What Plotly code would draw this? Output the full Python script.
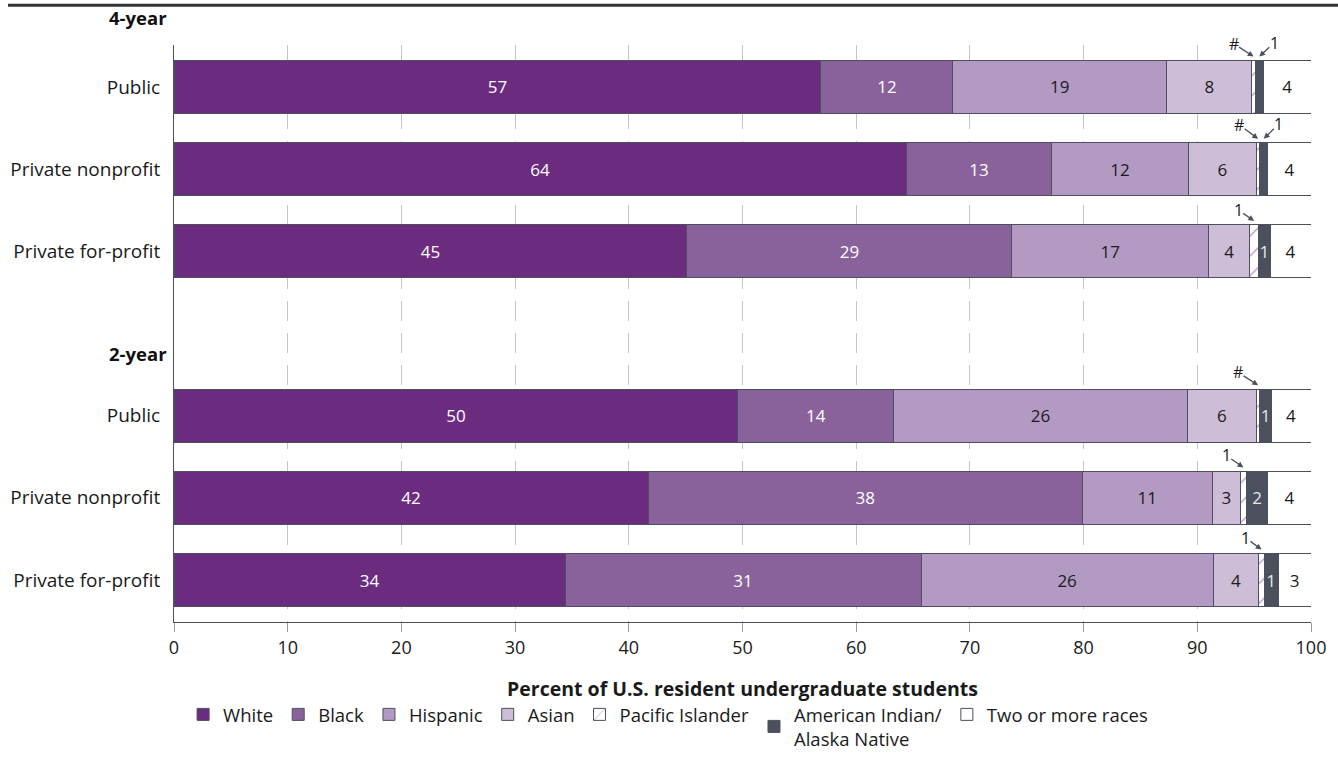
import plotly.graph_objects as go

# ---------------- data ----------------
categories = ["Public", "Private nonprofit", "Private for-profit",
              "Public", "Private nonprofit", "Private for-profit"]
groups = ["4-year", "2-year"]
row_pos = [0, 1, 2, 4, 5, 6]

white = [56.9, 64.4, 45.1, 49.6, 41.7, 34.4]
black = [11.6, 12.8, 28.6, 13.7, 38.2, 31.3]
hispanic = [18.8, 12.0, 17.3, 25.8, 11.4, 25.7]
asian = [7.5, 6.0, 3.6, 6.1, 2.5, 4.0]
pacific = [0.3, 0.3, 0.8, 0.3, 0.5, 0.5]
aian = [0.7, 0.7, 1.0, 1.0, 1.9, 1.2]
two_more = [4.2, 3.8, 3.6, 3.5, 3.8, 2.9]

white_lbl = ["57", "64", "45", "50", "42", "34"]
black_lbl = ["12", "13", "29", "14", "38", "31"]
hispanic_lbl = ["19", "12", "17", "26", "11", "26"]
asian_lbl = ["8", "6", "4", "6", "3", "4"]
pacific_lbl = ["#", "#", "1", "#", "1", "1"]          # shown outside with arrows
aian_in_lbl = ["", "", "1", "1", "2", "1"]            # shown inside bar
aian_out_lbl = ["1", "1", "", "", "", ""]             # shown outside with arrows
two_lbl = ["4", "4", "4", "4", "4", "3"]

x_ticks = [0, 10, 20, 30, 40, 50, 60, 70, 80, 90, 100]

# ---------------- style ----------------
FONT = "Open Sans"
EDGE = "#4a505d"
series = [
    ("White", white, white_lbl, "#6b2c80", "white"),
    ("Black", black, black_lbl, "#8a629b", "white"),
    ("Hispanic", hispanic, hispanic_lbl, "#b39ac3", "#1a1a1a"),
    ("Asian", asian, asian_lbl, "#cebdd7", "#1a1a1a"),
    ("Pacific Islander", pacific, [""] * 6, "white", "#1a1a1a"),
    ("American Indian/<br>Alaska Native", aian, aian_in_lbl, "#4a505d", "#e6e6e6"),
    ("Two or more races", two_more, two_lbl, "white", "#1a1a1a"),
]

fig = go.Figure()
for name, vals, lbls, color, tcolor in series:
    marker = dict(color=color, line=dict(color=EDGE, width=1))
    if name == "Pacific Islander":
        marker["pattern"] = dict(shape="/", fgcolor="#7b3c96", bgcolor="white",
                                 size=14, solidity=0.1)
    fig.add_trace(go.Bar(
        y=row_pos, x=vals, name=name, orientation="h", width=0.645,
        marker=marker, text=lbls, textposition="inside",
        insidetextanchor="middle", textangle=0,
        textfont=dict(family=FONT, size=17, color=tcolor),
        hoverinfo="skip",
    ))

# ---------------- outside labels with arrows ----------------
pi_offsets = [(-20, -13), (-19, -14), (-16, -11), (-20, -13), (-17, -12), (-16, -12)]
aian_offsets = [(15, -14), (15, -15), (0, 0), (0, 0), (0, 0), (0, 0)]
annotations = []
for i, y in enumerate(row_pos):
    base_pi = white[i] + black[i] + hispanic[i] + asian[i]
    pi_center = base_pi + pacific[i] / 2
    ax, ay = pi_offsets[i]
    annotations.append(dict(
        x=pi_center, y=y - 0.37, xref="x", yref="y", text=pacific_lbl[i],
        showarrow=True, arrowhead=2, arrowsize=0.9, arrowwidth=1.3,
        arrowcolor=EDGE, ax=ax, ay=ay, standoff=0, borderpad=0,
        font=dict(family=FONT, size=16, color="#1a1a1a")))
    if aian_out_lbl[i]:
        aian_center = base_pi + pacific[i] + aian[i] / 2
        ax, ay = aian_offsets[i]
        annotations.append(dict(
            x=aian_center, y=y - 0.37, xref="x", yref="y", text=aian_out_lbl[i],
            showarrow=True, arrowhead=2, arrowsize=0.9, arrowwidth=1.3,
            arrowcolor=EDGE, ax=ax, ay=ay, standoff=0, borderpad=0,
            font=dict(family=FONT, size=16, color="#1a1a1a")))

# group headers
annotations.append(dict(x=-0.0585, y=1.047, xref="paper", yref="paper",
                        text="<b>" + groups[0] + "</b>", showarrow=False,
                        xanchor="left", yanchor="middle",
                        font=dict(family=FONT, size=18.5, color="#111")))
annotations.append(dict(x=-0.0585, y=3.24, xref="paper", yref="y",
                        text="<b>" + groups[1] + "</b>", showarrow=False,
                        xanchor="left", yanchor="middle",
                        font=dict(family=FONT, size=18.5, color="#111")))

fig.update_layout(
    width=1338, height=763,
    margin=dict(l=174, r=27, t=45, b=141, autoexpand=False),
    barmode="stack",
    plot_bgcolor="white", paper_bgcolor="white",
    font=dict(family=FONT, size=17, color="#1a1a1a"),
    uniformtext=dict(mode="show", minsize=17),
    showlegend=True,
    legend=dict(orientation="h", x=0.008, y=-0.128, xanchor="left", yanchor="top",
                traceorder="normal", font=dict(family=FONT, size=18.5),
                itemclick=False, itemdoubleclick=False),
    annotations=annotations,
    shapes=[dict(type="line", xref="paper", yref="paper",
                 x0=-0.146, x1=1.03, y0=1.069, y1=1.069,
                 line=dict(color="#333333", width=3))],
)
fig.update_xaxes(
    range=[0, 100], tickvals=x_ticks, ticks="outside", ticklen=9,
    tickcolor="#9a9ca3", showline=True, linecolor="#4a505d", linewidth=1,
    showgrid=True, gridcolor="#c4c5cb", gridwidth=1, griddash="20px,12px",
    zeroline=False, tickfont=dict(size=18), automargin=False,
    title=dict(text="<b>Percent of U.S. resident undergraduate students</b>",
               font=dict(size=19.5), standoff=24),
)
fig.update_yaxes(
    range=[6.511, -0.511], tickvals=row_pos, ticktext=categories,
    showline=True, linecolor="#4a505d", linewidth=1, showgrid=False,
    zeroline=False, ticks="", ticklabelstandoff=9, tickfont=dict(size=19),
    automargin=False,
)

fig.write_html("out.html", config={"displayModeBar": False},
               post_script="document.body.style.margin='0px';")
